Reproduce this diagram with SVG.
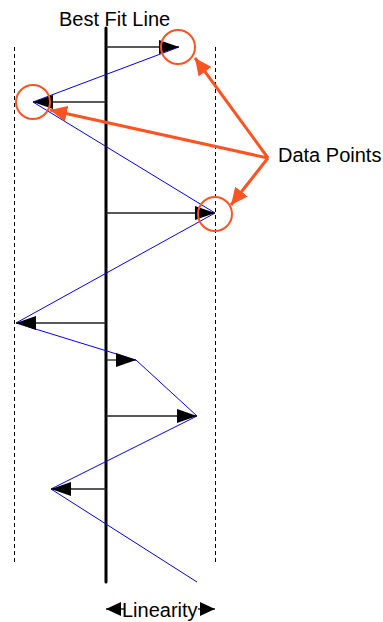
<svg xmlns="http://www.w3.org/2000/svg" width="383" height="622" viewBox="0 0 383 622">
<style>
.lbl{font-family:"Liberation Sans",Arial,sans-serif;font-size:20px;fill:#000}
.dash{stroke:#000;stroke-width:1;stroke-dasharray:4 3;fill:none}
.blue{stroke:#0000ff;stroke-width:1;fill:none}
.dev{stroke:#222;stroke-width:1.3;fill:none;marker-end:url(#ah)}
.ring{stroke:#ff5422;stroke-width:2;fill:none}
.call{stroke:#ff5422;stroke-width:3;fill:none;marker-end:url(#oh)}
</style>
<defs>
<marker id="ah" markerUnits="userSpaceOnUse" markerWidth="22" markerHeight="14" refX="20" refY="7" orient="auto"><path d="M0,0 L20,7 L0,14 Z" fill="#000"/></marker>
<marker id="oh" markerUnits="userSpaceOnUse" markerWidth="18" markerHeight="16" refX="17" refY="8" orient="auto"><path d="M0,0 L17,8 L0,16 Z" fill="#ff5422"/></marker>
<marker id="lh" markerUnits="userSpaceOnUse" markerWidth="16" markerHeight="14" refX="15" refY="7" orient="auto-start-reverse"><path d="M0,0 L15,7 L0,14 Z" fill="#000"/></marker>
</defs>
<g id="bounds">
<line class="dash" x1="14.5" y1="47" x2="14.5" y2="563"/>
<line class="dash" x1="215.5" y1="47" x2="215.5" y2="563"/>
</g>
<g id="best-fit-line">
<line x1="106" y1="28" x2="106" y2="582" stroke="#000" stroke-width="3" stroke-linecap="round"/>
<text class="lbl" x="59" y="26">Best Fit Line</text>
</g>
<g id="connectors">
<polyline class="blue" points="179,47 33,102 215,213 16,323 136,360 197,416 51,489 197,582"/>
<line class="dev" x1="106" y1="47" x2="179" y2="47"/>
<line class="dev" x1="106" y1="102" x2="33" y2="102"/>
<line class="dev" x1="106" y1="213" x2="215" y2="213"/>
<line class="dev" x1="106" y1="323" x2="16" y2="323"/>
<line class="dev" x1="106" y1="360" x2="136" y2="360"/>
<line class="dev" x1="106" y1="416" x2="197" y2="416"/>
<line class="dev" x1="106" y1="489" x2="51" y2="489"/>
<line class="call" x1="268" y1="158" x2="195" y2="58"/>
<line class="call" x1="268" y1="158" x2="50" y2="110"/>
<line class="call" x1="268" y1="158" x2="231" y2="205"/>
</g>
<g id="data-points">
<circle class="ring" cx="178" cy="47" r="17"/>
<circle class="ring" cx="33" cy="102" r="17"/>
<circle class="ring" cx="215" cy="214" r="17"/>
<text class="lbl" x="278" y="162">Data Points</text>
</g>
<g id="linearity">
<line x1="106" y1="609" x2="124" y2="609" stroke="#000" stroke-width="1.3" marker-start="url(#lh)"/>
<line x1="198" y1="609" x2="215" y2="609" stroke="#000" stroke-width="1.3" marker-end="url(#lh)"/>
<text class="lbl" x="122" y="617">Linearity</text>
</g>
</svg>
